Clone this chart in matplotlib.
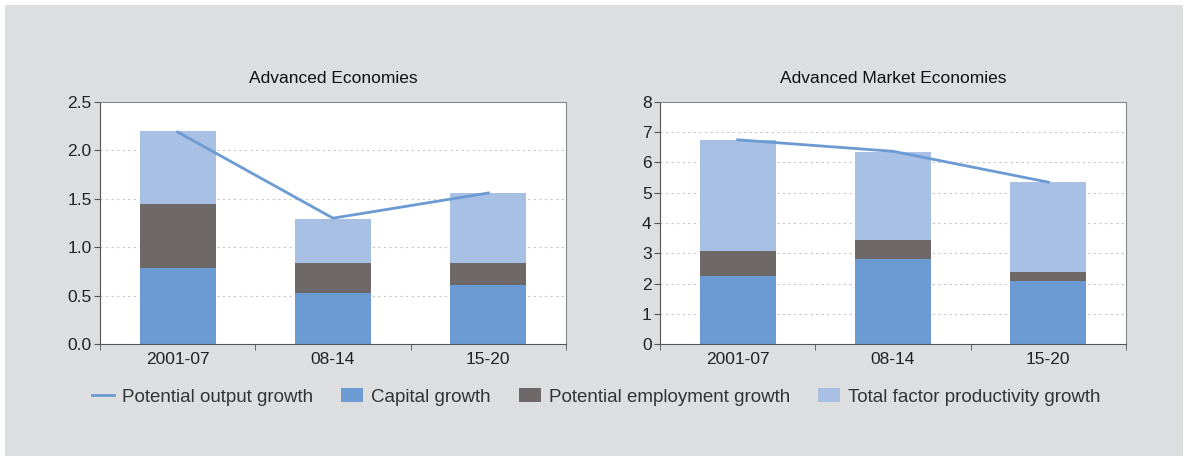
import matplotlib.pyplot as plt
import numpy as np

plt.rcParams['font.family'] = ['Liberation Sans', 'DejaVu Sans']

periods = ['2001-07', '08-14', '15-20']

# Advanced Economies
ae_capital = [0.78, 0.53, 0.61]
ae_employment = [0.67, 0.31, 0.23]
ae_tfp = [0.75, 0.45, 0.72]
ae_potential = [2.19, 1.30, 1.56]

# Advanced Market Economies
ame_capital = [2.25, 2.81, 2.08]
ame_employment = [0.82, 0.63, 0.30]
ame_tfp = [3.67, 2.91, 2.97]
ame_potential = [6.75, 6.37, 5.35]

c_line = '#6b9bd2'
c_cap = '#6b9bd2'
c_emp = '#6e6868'
c_tfp = '#a8c0e4'
bg = '#dddee0'

fig = plt.figure(figsize=(11.87, 4.61), dpi=100, facecolor='white')
fig.patches.append(plt.Rectangle((5/1187, 5/461), 1178/1187, 451/461,
                                 transform=fig.transFigure, facecolor=bg,
                                 edgecolor='none', zorder=-10))

W, H = 1187, 461
ax1 = fig.add_axes([100/W, 1 - 344/H, 466/W, 242/H])
ax2 = fig.add_axes([660/W, 1 - 344/H, 466/W, 242/H])


def draw(ax, cap, emp, tfp, pot, ymax, step, title, fmt):
    x = np.arange(len(periods))
    cap = np.array(cap)
    emp = np.array(emp)
    tfp = np.array(tfp)
    ax.plot(x, pot, color=c_line, lw=2, label='Potential output growth', zorder=3)
    ax.bar(x, cap, width=0.49, color=c_cap, label='Capital growth', zorder=2)
    ax.bar(x, emp, width=0.49, bottom=cap, color=c_emp,
           label='Potential employment growth', zorder=2)
    ax.bar(x, tfp, width=0.49, bottom=cap + emp, color=c_tfp,
           label='Total factor productivity growth', zorder=2)
    ax.set_xlim(-0.5, 2.5)
    ax.set_ylim(0, ymax)
    ticks = np.arange(0, ymax + step / 2, step)
    ax.set_yticks(ticks)
    ax.set_yticklabels([fmt.format(t) for t in ticks], fontsize=12.5, color='#222222')
    for t in ticks[1:-1]:
        ax.axhline(t, color='#c8c8c8', lw=0.8, ls=(0, (2, 3)), zorder=1)
    ax.set_xticks(x)
    ax.set_xticklabels(periods, fontsize=12.5, color='#222222')
    ax.tick_params(axis='x', length=0, pad=6)
    ax.set_xticks([-0.5, 0.5, 1.5, 2.5], minor=True)
    ax.tick_params(axis='x', which='minor', length=4, color='#555555')
    ax.tick_params(axis='y', length=4, color='#555555', pad=2)
    for s in ['left', 'bottom']:
        ax.spines[s].set_color('#555555')
    for s in ['top', 'right']:
        ax.spines[s].set_color('#888888')
    ax.set_facecolor('white')
    ax.set_title(title, fontsize=12.5, pad=14, color='#111111')


draw(ax1, ae_capital, ae_employment, ae_tfp, ae_potential, 2.5, 0.5,
     'Advanced Economies', '{:.1f}')
draw(ax2, ame_capital, ame_employment, ame_tfp, ame_potential, 8, 1,
     'Advanced Market Economies', '{:.0f}')

handles, labels = ax1.get_legend_handles_labels()
leg = fig.legend(handles, labels,
                 loc='center', bbox_to_anchor=(596/W, 1 - 397/H), ncol=4,
                 frameon=False, handlelength=1.2,
                 handletextpad=0.4, columnspacing=1.5,
                 prop={'family': ['Liberation Sans Narrow', 'Liberation Sans'], 'size': 13.5})
for t in leg.get_texts():
    t.set_color('#333333')

fig.savefig('out.png', dpi=100, facecolor='white')
